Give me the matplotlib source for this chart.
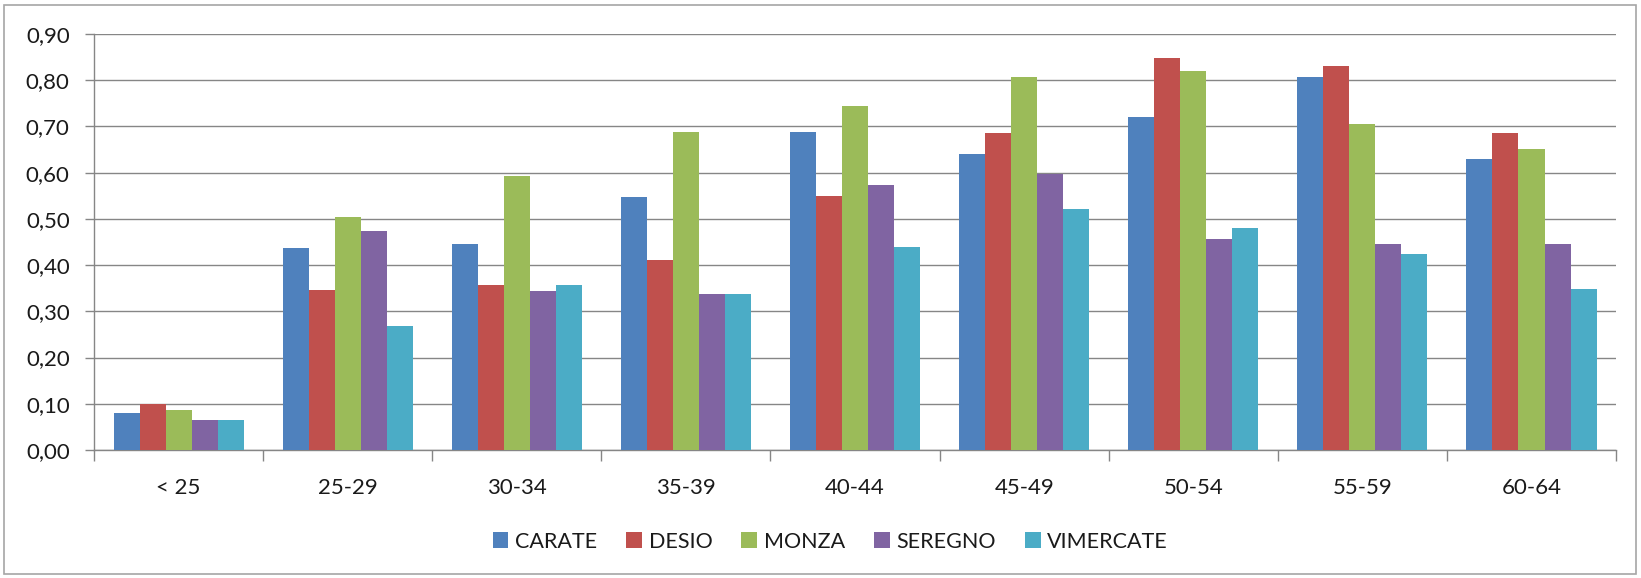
#!/usr/bin/env python3
"""
Grouped bar chart: ratio by age class for five districts (Excel-2007 style).
"""
import matplotlib
matplotlib.use("Agg")
import matplotlib.pyplot as plt
from matplotlib.patches import Rectangle
from matplotlib.ticker import FixedLocator, FuncFormatter
import numpy as np

# ---------------------------------------------------------------------------
# Data
# ---------------------------------------------------------------------------
AGE_CLASSES = ["< 25", "25-29", "30-34", "35-39", "40-44", "45-49", "50-54", "55-59", "60-64"]
SERIES = ["CARATE", "DESIO", "MONZA", "SEREGNO", "VIMERCATE"]

carate = [0.08, 0.436, 0.446, 0.547, 0.688, 0.640, 0.721, 0.807, 0.630]
desio = [0.10, 0.346, 0.356, 0.412, 0.550, 0.686, 0.849, 0.831, 0.686]
monza = [0.086, 0.504, 0.592, 0.688, 0.745, 0.807, 0.820, 0.706, 0.651]
seregno = [0.065, 0.474, 0.345, 0.338, 0.574, 0.596, 0.456, 0.446, 0.446]
vimercate = [0.065, 0.269, 0.356, 0.338, 0.439, 0.522, 0.481, 0.425, 0.348]

COLORS = ["#4F81BD", "#C0504D", "#9BBB59", "#8064A2", "#4BACC6"]
AXIS_GRAY = "#868686"

# ---------------------------------------------------------------------------
# Plot
# ---------------------------------------------------------------------------
plt.rcParams["font.family"] = ["Lato", "DejaVu Sans"]

fig = plt.figure(figsize=(16.41, 5.78), dpi=100)
ax = fig.add_axes([0.0573, 0.2215, 0.9275, 0.7197])

values = [carate, desio, monza, seregno, vimercate]
x = np.arange(len(AGE_CLASSES))
width = 1 / 6.5  # Excel gap width 150%

for i, (name, vals) in enumerate(zip(SERIES, values)):
    ax.bar(x + (i - 2) * width, vals, width, color=COLORS[i], label=name, zorder=3)

ax.set_xlim(-0.5, len(AGE_CLASSES) - 0.5)
ax.set_ylim(0, 0.9)
ax.set_yticks(np.arange(0, 0.91, 0.1))
ax.yaxis.set_major_formatter(FuncFormatter(lambda v, _: f"{v:.2f}".replace(".", ",")))
ax.grid(axis="y", color=AXIS_GRAY, linewidth=1.0, zorder=0)

ax.set_xticks(x)
ax.set_xticklabels(AGE_CLASSES)
ax.xaxis.set_minor_locator(FixedLocator(np.arange(-0.5, len(AGE_CLASSES), 1.0)))
ax.tick_params(axis="x", which="major", length=0, pad=20, labelsize=16, labelcolor="#1a1a1a")
ax.tick_params(axis="x", which="minor", length=8, color=AXIS_GRAY, width=1)
ax.tick_params(axis="y", length=6.5, color=AXIS_GRAY, width=1, labelsize=16, pad=11,
               labelcolor="#1a1a1a")

for side in ["top", "right"]:
    ax.spines[side].set_visible(False)
for side in ["left", "bottom"]:
    ax.spines[side].set_color(AXIS_GRAY)
    ax.spines[side].set_linewidth(1.0)

fig.legend(loc="center", bbox_to_anchor=(0.506, 0.063), ncol=5, frameon=False,
           fontsize=15.5, handlelength=0.73, handleheight=0.73, handletextpad=0.31,
           columnspacing=1.35, labelcolor="#1a1a1a")

# outer chart-area border
fig.patches.append(Rectangle((4 / 1641, 4 / 578), 1 - 9 / 1641, 1 - 9 / 578,
                             transform=fig.transFigure, fill=False,
                             edgecolor="#A6A6A6", linewidth=1.2))

fig.savefig("out.png", dpi=100)
